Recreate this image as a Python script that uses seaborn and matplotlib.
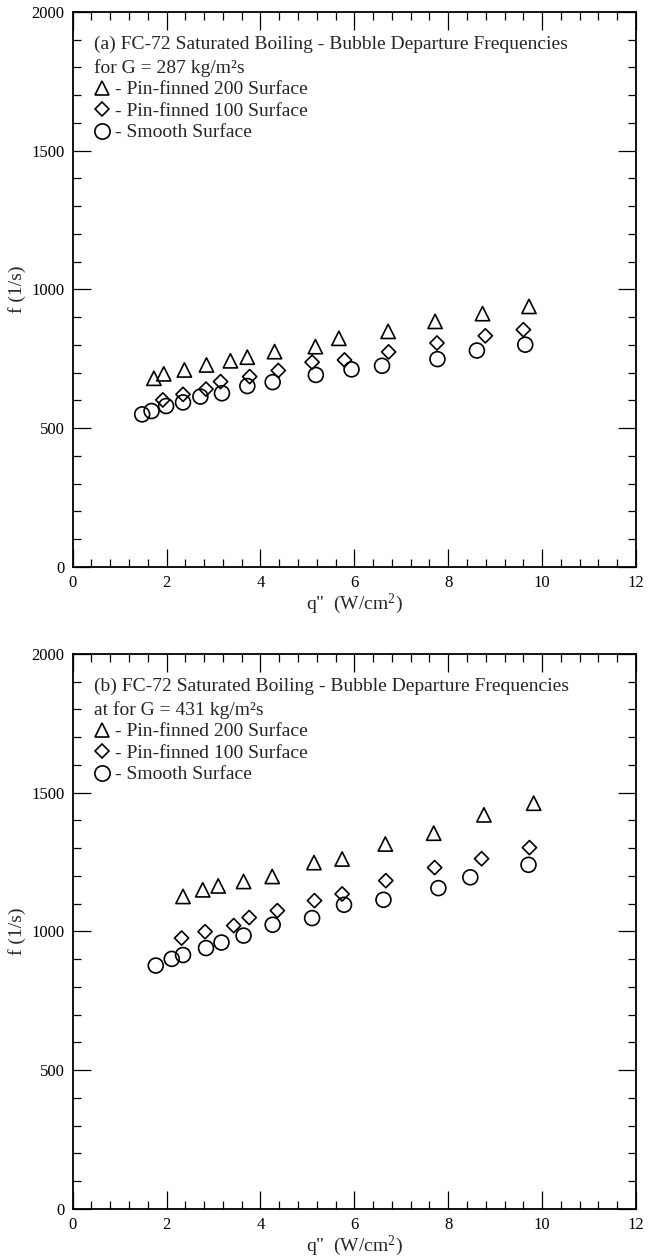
import numpy as np
import pandas as pd
import seaborn as sns
import matplotlib
matplotlib.use("Agg")
import matplotlib.pyplot as plt
from matplotlib.lines import Line2D
from matplotlib.ticker import MultipleLocator

# ---- (a) G = 287 kg/m2s ----
a_pf200_q = [1.73, 1.94, 2.38, 2.85, 3.36, 3.72, 4.30, 5.17, 5.67, 6.72, 7.72, 8.73, 9.72]
a_pf200_f = [680, 696, 710, 728, 743, 756, 776, 794, 824, 849, 885, 913, 939]
a_pf100_q = [1.92, 2.35, 2.84, 3.15, 3.77, 4.38, 5.10, 5.79, 6.73, 7.76, 8.79, 9.60]
a_pf100_f = [602, 622, 641, 668, 686, 708, 738, 746, 775, 807, 833, 855]
a_smooth_q = [1.48, 1.68, 1.99, 2.35, 2.72, 3.18, 3.72, 4.26, 5.18, 5.94, 6.59, 7.77, 8.61, 9.64]
a_smooth_f = [550, 562, 580, 593, 614, 626, 652, 666, 692, 712, 725, 749, 780, 801]

# ---- (b) G = 431 kg/m2s ----
b_pf200_q = [2.35, 2.77, 3.10, 3.64, 4.25, 5.14, 5.74, 6.66, 7.69, 8.76, 9.82]
b_pf200_f = [1126, 1150, 1164, 1180, 1198, 1248, 1261, 1315, 1354, 1420, 1462]
b_pf100_q = [2.32, 2.82, 3.43, 3.76, 4.36, 5.15, 5.74, 6.67, 7.71, 8.71, 9.73]
b_pf100_f = [976, 999, 1021, 1050, 1075, 1111, 1135, 1183, 1230, 1262, 1302]
b_smooth_q = [1.77, 2.11, 2.35, 2.84, 3.17, 3.64, 4.26, 5.10, 5.78, 6.62, 7.79, 8.47, 9.71]
b_smooth_f = [877, 901, 915, 940, 960, 985, 1024, 1048, 1096, 1114, 1156, 1195, 1240]

surfaces = ["Pin-finned 200 Surface", "Pin-finned 100 Surface", "Smooth Surface"]
titles = [
    "(a) FC-72 Saturated Boiling - Bubble Departure Frequencies\nfor G = 287 kg/m\u00b2s",
    "(b) FC-72 Saturated Boiling - Bubble Departure Frequencies\nat for G = 431 kg/m\u00b2s",
]


def frame(series):
    rows = []
    for name, (q, f) in zip(surfaces, series):
        rows.append(pd.DataFrame({"q": q, "f": f, "surface": name}))
    return pd.concat(rows, ignore_index=True)


df_a = frame([(a_pf200_q, a_pf200_f), (a_pf100_q, a_pf100_f), (a_smooth_q, a_smooth_f)])
df_b = frame([(b_pf200_q, b_pf200_f), (b_pf100_q, b_pf100_f), (b_smooth_q, b_smooth_f)])

sns.set_theme(style="ticks")
plt.rcParams["font.family"] = ["Liberation Serif", "DejaVu Serif"]
plt.rcParams["mathtext.fontset"] = "custom"
plt.rcParams["mathtext.rm"] = "Liberation Serif"
plt.rcParams["mathtext.it"] = "Liberation Serif:italic"

markers = {surfaces[0]: "^", surfaces[1]: "D", surfaces[2]: "o"}
sizes = {surfaces[0]: 105, surfaces[1]: 52, surfaces[2]: 115}

fig = plt.figure(figsize=(6.49, 12.58), dpi=100)
ax_a = fig.add_axes([0.112, 0.5493, 0.868, 0.4412])
ax_b = fig.add_axes([0.112, 0.0390, 0.868, 0.4412])

for ax, df, title in [(ax_a, df_a, titles[0]), (ax_b, df_b, titles[1])]:
    for name in surfaces:
        sub = df[df["surface"] == name]
        sns.scatterplot(data=sub, x="q", y="f", marker=markers[name], s=sizes[name],
                        facecolor="none", edgecolor="black", linewidth=1.2,
                        legend=False, ax=ax)
    ax.set_xlim(0, 12)
    ax.set_ylim(0, 2000)
    ax.xaxis.set_major_locator(MultipleLocator(2))
    ax.xaxis.set_minor_locator(MultipleLocator(0.4))
    ax.yaxis.set_major_locator(MultipleLocator(500))
    ax.yaxis.set_minor_locator(MultipleLocator(100))
    ax.tick_params(which="both", direction="in", top=True, right=True,
                   labelsize=12, color="black", labelcolor="black", pad=6)
    ax.tick_params(which="major", length=13, width=0.9)
    ax.tick_params(which="minor", length=6, width=0.9)
    for sp in ax.spines.values():
        sp.set_linewidth(1.3)
        sp.set_color("black")
    ax.set_xlabel("q\"  (W/cm$^{2}$)", fontsize=14, labelpad=0)
    ax.set_ylabel("f (1/s)", fontsize=14, labelpad=4)

    handles = [
        Line2D([], [], linestyle="none", marker="^", markersize=10.5,
               markerfacecolor="none", markeredgecolor="black", markeredgewidth=1.2),
        Line2D([], [], linestyle="none", marker="D", markersize=7.5,
               markerfacecolor="none", markeredgecolor="black", markeredgewidth=1.2),
        Line2D([], [], linestyle="none", marker="o", markersize=11,
               markerfacecolor="none", markeredgecolor="black", markeredgewidth=1.2),
    ]
    labels = ["- " + s for s in surfaces]
    leg = ax.legend(handles, labels, title=title, loc="upper left",
                    bbox_to_anchor=(0.038, 0.958), borderaxespad=0, borderpad=0,
                    frameon=False, fontsize=14, title_fontsize=14,
                    handlelength=0.8, handletextpad=0.3, labelspacing=0.2,
                    alignment="left")
    leg._legend_box.sep = 3
    leg.get_title().set_linespacing(1.45)

fig.savefig("out.png", dpi=100, facecolor="white")
